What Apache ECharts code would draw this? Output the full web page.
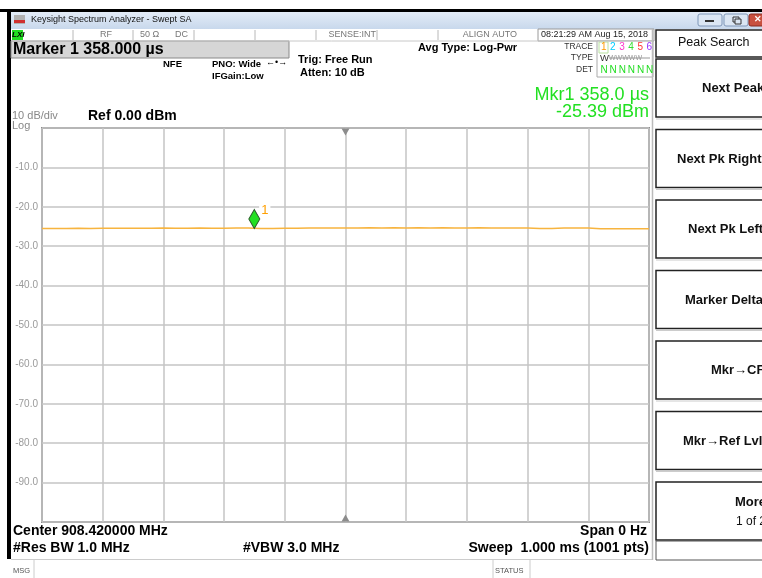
<!DOCTYPE html>
<html><head><meta charset="utf-8">
<script src="https://cdn.jsdelivr.net/npm/echarts@6/dist/echarts.min.js"></script>
<style>html,body{margin:0;padding:0;background:#fff}#c{width:762px;height:578px}</style>
</head><body><div id="c"></div>
<script>
// ---- data ----
const sweepTimeMs = 1.0;
const yTicks = [0,-10,-20,-30,-40,-50,-60,-70,-80,-90,-100];
const traceLevels = [-25.52,-25.48,-25.50,-25.45,-25.49,-25.44,-25.47,-25.42,-25.46,-25.44,
  -25.41,-25.45,-25.43,-25.40,-25.44,-25.42,-25.39,-25.39,-25.52,-25.50,
  -25.46,-25.43,-25.40,-25.38,-25.36,-25.35,-25.37,-25.34,-25.36,-25.33,
  -25.35,-25.34,-25.36,-25.33,-25.35,-25.37,-25.34,-25.36,-25.38,-25.35,
  -25.37,-25.50,-25.48,-25.40,-25.38,-25.40,-25.55,-25.58,-25.56,-25.59,-25.57];
const markerTimeMs = 0.358;
const markerLevel = -25.39;
const softKeys = ["Next Peak","Next Pk Right","Next Pk Left","Marker Delta","Mkr\u2192CF","Mkr\u2192Ref Lvl"];

const FF = "'Liberation Sans', Arial, sans-serif";
const step = sweepTimeMs/(traceLevels.length-1);
const trace = traceLevels.map((v,i)=>[i*step, v]);

const G = [];
function T(text,x,y,size,opt){opt=opt||{};G.push({type:'text',z:100,style:{text:text,x:x,y:y,
  font:(opt.weight||'normal')+' '+size+'px '+FF,fill:opt.color||'#000',
  textAlign:opt.align||'left',align:opt.align||'left',textVerticalAlign:'middle',verticalAlign:'middle'}});}
function R(x,y,w,h,fill,stroke,lw){G.push({type:'rect',z:90,shape:{x:x,y:y,width:w,height:h},style:{fill:fill||'none',stroke:stroke||null,lineWidth:lw||1}});}
function L(x1,y1,x2,y2,c,lw){G.push({type:'line',z:95,shape:{x1:x1,y1:y1,x2:x2,y2:y2},style:{stroke:c,lineWidth:lw||1}});}

// top chrome
R(0,9,762,3,'#000');
R(7,9,4,550,'#000');
G.push({type:'rect',z:90,shape:{x:11,y:12,width:751,height:17},style:{fill:new echarts.graphic.LinearGradient(0,0,0,1,[{offset:0,color:'#e3ecf7'},{offset:1,color:'#c8d8ec'}])}});
R(14,15,11,9,'#b0b0b0'); R(14,20,11,3,'#d03030');
T('Keysight Spectrum Analyzer - Swept SA',31,20,9,{color:'#111'});
G.push({type:'rect',z:90,shape:{x:698,y:14,width:24,height:12,r:2},style:{fill:'#dbe6f3',stroke:'#7f97b8'}});
L(705,21,714,21,'#333',2);
G.push({type:'rect',z:90,shape:{x:724,y:14,width:24,height:12,r:2},style:{fill:'#dbe6f3',stroke:'#7f97b8'}});
R(733,17,6,5,'none','#333',1); R(735,19,6,5,'#dbe6f3','#333',1);
G.push({type:'rect',z:90,shape:{x:749,y:14,width:20,height:12,r:2},style:{fill:'#c8503f',stroke:'#8a2a20'}});
T('\u2715',754,20,9,{color:'#fff',weight:'bold'});
// status row
R(11,29,751,12,'#fff');
L(11,41,652,41,'#c8c8c8',1);
R(12,30,11,10,'#22dd22');
T('LXI',12,35,8,{weight:'bold italic',color:'#000'});
[73,133,194,255,316,377,438].forEach(x=>L(x,30,x,40,'#b8b8b8',1));
T('RF',100,35,9,{color:'#777'});
T('50 \u03a9',140,35,9,{color:'#777'});
T('DC',175,35,9,{color:'#777'});
T('SENSE:INT',376,35,9,{color:'#777',align:'right'});
T('ALIGN AUTO',517,35,9,{color:'#777',align:'right'});
R(538,29,116,12,'#fff','#9a9a9a',1);
T('08:21:29 AM Aug 15, 2018',541,35,9,{color:'#222'});
// marker line
R(11,41,278,17,'#d6d6d6','#8a8a8a',1);
T('Marker 1 358.000 \u00b5s',13,50,16,{weight:'bold'});
T('NFE',163,64,9.5,{weight:'bold'});
T('PNO: Wide',212,64,9.5,{weight:'bold'});
T('\u2190\u2022\u2192',266,63,9,{});
T('IFGain:Low',212,76,9.5,{weight:'bold'});
T('Trig: Free Run',298,60,11,{weight:'bold'});
T('Atten: 10 dB',300,73,11,{weight:'bold'});
T('Avg Type: Log-Pwr',418,48,11,{weight:'bold'});
T('TRACE',593,47,8.5,{color:'#333',align:'right'});
T('TYPE',593,58,8.5,{color:'#333',align:'right'});
T('DET',593,70,8.5,{color:'#333',align:'right'});
R(597,41,56,36,'#fff','#aaa',1);
R(599,42,9,11,'#fff','#b8e0a0',1);
const trCols=['#ff9900','#00ccff','#ff33cc','#33dd33','#ff3333','#9933ff'];
[1,2,3,4,5,6].forEach((n,i)=>{T(String(n),601+i*9.1,47,10,{color:trCols[i]});T('N',600.5+i*9.1,70,10,{color:'#22dd22'});});
T('W',600,58,9.5,{color:'#333'});
T('WWWWW',609,58,7,{color:'#999'});
L(609,58,650,58,'#999',1);
// chart header
T('10 dB/div',12,116,11,{color:'#888'});
T('Log',12,126,11,{color:'#888'});
T('Ref 0.00 dBm',88,116,14,{weight:'bold'});
T('Mkr1 358.0 \u00b5s',649,95,18,{color:'#22e022',align:'right'});
T('-25.39 dBm',649,112,18,{color:'#22e022',align:'right'});
// bottom
T('Center 908.420000 MHz',13,531,14,{weight:'bold'});
T('#Res BW 1.0 MHz',13,548,14,{weight:'bold'});
T('#VBW 3.0 MHz',243,548,14,{weight:'bold'});
T('Span 0 Hz',647,531,14,{weight:'bold',align:'right'});
T('Sweep  1.000 ms (1001 pts)',649,548,14,{weight:'bold',align:'right'});
L(11,559.5,652,559.5,'#cccccc',1);
T('MSG',13,571,7.5,{color:'#555'});
L(34,560,34,578,'#cccccc',1);
L(493,560,493,578,'#cccccc',1);
L(530,560,530,578,'#cccccc',1);
T('STATUS',495,571,7.5,{color:'#555'});
// right softkey panel
L(652.5,29,652.5,560,'#bbbbbb',1.5);
R(656,30,110,27,'#fff','#222',1.5);
T('Peak Search',678,43,12.5,{color:'#111'});
const keyStarts=[702,677,688,685,711,683];
softKeys.forEach((k,i)=>{const top=59+i*70.5;
  R(656,top,110,58,'#fff','#222',1.5);
  L(656,top+60,762,top+60,'#cccccc',1);
  T(k,keyStarts[i],top+29.5,13,{weight:'bold',color:'#111'});});
R(656,482,110,58,'#fff','#222',1.5);
T('More',735,502,13,{weight:'bold',color:'#111'});
T('1 of 2',736,522,12,{color:'#111'});
R(656,541,110,19,'#fff','#555',1);

const chart = echarts.init(document.getElementById('c'),null,{renderer:'canvas'});
chart.setOption({
  animation:false,
  backgroundColor:'#fff',
  grid:{left:42,right:113,top:128,bottom:56,show:true,borderColor:'#8c8c8c',borderWidth:2,backgroundColor:'#fff'},
  xAxis:{type:'value',min:0,max:sweepTimeMs,interval:sweepTimeMs/10,
    axisLine:{show:false},axisTick:{show:false},axisLabel:{show:false},
    splitLine:{show:true,lineStyle:{color:'#c4c4c4',width:1.5}}},
  yAxis:{type:'value',min:yTicks[yTicks.length-1],max:yTicks[0],interval:10,
    axisLine:{show:false},axisTick:{show:false},
    axisLabel:{color:'#9a9a9a',fontSize:10,fontFamily:FF,margin:4,
      formatter:v=>(v===yTicks[0]||v===yTicks[yTicks.length-1])?'':v.toFixed(1)},
    splitLine:{show:true,lineStyle:{color:'#c4c4c4',width:1.5}}},
  series:[{type:'line',data:trace,showSymbol:false,
    lineStyle:{color:'#f7b43f',width:1.5},
    markPoint:{animation:false,data:[
      {coord:[markerTimeMs,markerLevel],symbol:'diamond',symbolSize:[11,19],symbolOffset:[-5,-9],
        itemStyle:{color:'#22e022',borderColor:'#2a5a2a',borderWidth:1},
        label:{show:true,formatter:'1',position:'right',offset:[-6,-9],color:'#ff9f00',fontSize:13,fontFamily:FF,backgroundColor:'#fff',padding:[0,2]}},
      {coord:[sweepTimeMs/2,yTicks[0]],symbol:'triangle',symbolRotate:180,symbolSize:[8,7],symbolOffset:[0,4],
        itemStyle:{color:'#8c8c8c'},label:{show:false}},
      {coord:[sweepTimeMs/2,yTicks[yTicks.length-1]],symbol:'triangle',symbolSize:[8,7],symbolOffset:[0,-4],
        itemStyle:{color:'#8c8c8c'},label:{show:false}}
    ]}
  }],
  graphic:G
});
</script></body></html>
